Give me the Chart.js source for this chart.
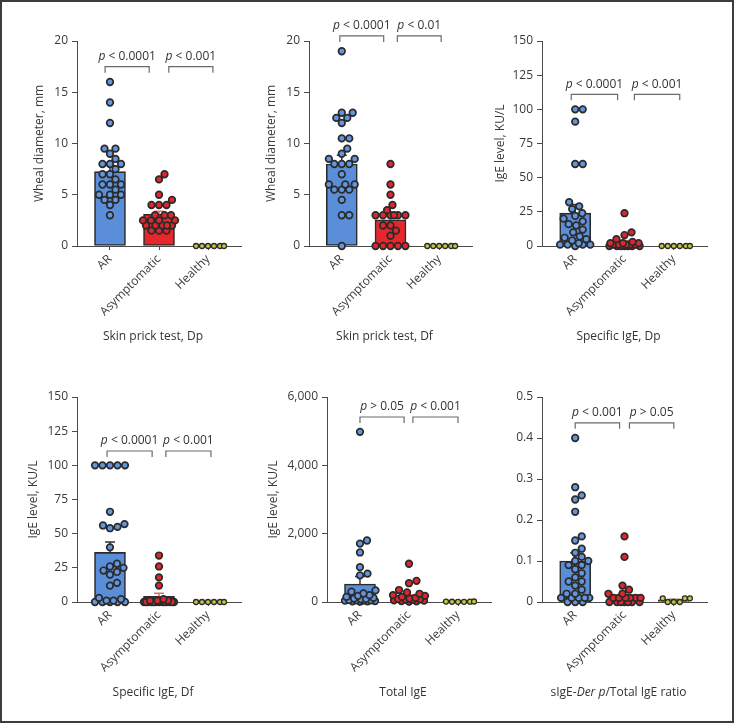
<!DOCTYPE html>
<html>
<head>
<meta charset="utf-8">
<script src="https://cdn.jsdelivr.net/npm/chart.js@4.4.1/dist/chart.umd.min.js"></script>
<style>
  html, body { margin: 0; padding: 0; background: #fff; }
  #frame { position: absolute; left: 0; top: 0; width: 734px; height: 723px; box-sizing: border-box; border: 2px solid #3c3c3c; }
  .panel { position: absolute; }
</style>
</head>
<body>
<div id="frame"></div>
<div class="panel" id="p0"><canvas></canvas></div>
<div class="panel" id="p1"><canvas></canvas></div>
<div class="panel" id="p2"><canvas></canvas></div>
<div class="panel" id="p3"><canvas></canvas></div>
<div class="panel" id="p4"><canvas></canvas></div>
<div class="panel" id="p5"><canvas></canvas></div>
<script>
// groups on the x axis
const categories = ['AR', 'Asymptomatic', 'Healthy'];

// Skin prick test, Dp (wheal diameter, mm)
const sptDpAR = [16, 14, 12, 9.5, 9.5, 9, 8.5, 8, 8, 8, 7.5, 7, 7, 6.5, 6, 6, 6, 5.5, 5, 5, 5, 4.5, 4.5, 4, 3];
const sptDpAsym = [7, 6.5, 5, 4.5, 4, 4, 4, 3, 3, 3, 2.5, 2.5, 2.5, 2.5, 2, 2, 2, 2, 2, 1.5, 1.5, 1.5];
const sptDpHealthy = [0, 0, 0, 0, 0, 0];
const sptDpMean = [7.25, 3.1, 0];
const sptDpSem = [0.6, 0.3, 0];
const sptDpP = ['*p* < 0.0001', '*p* < 0.001'];

// Skin prick test, Df
const sptDfAR = [19, 13, 13, 12.5, 12.5, 12, 10.5, 10.5, 9.5, 9, 8.5, 8.5, 8, 8, 8, 7, 6, 6, 6, 5.5, 5.5, 5.5, 4.5, 3, 3, 0];
const sptDfAsym = [8, 6, 5, 4, 3.5, 3, 3, 3, 3, 3, 3, 2, 2, 1.5, 1, 0, 0, 0, 0, 0];
const sptDfHealthy = [0, 0, 0, 0, 0, 0];
const sptDfMean = [8.0, 2.55, 0];
const sptDfSem = [0.85, 0.5, 0];
const sptDfP = ['*p* < 0.0001', '*p* < 0.01'];

// Specific IgE, Dp (KU/L)
const sIgeDpAR = [100, 100, 91, 60, 60, 32, 29, 27, 24, 22, 20, 18, 16, 15, 12, 10, 7, 6, 5, 4, 2, 1, 1, 1, 1, 0];
const sIgeDpAsym = [24, 10, 8, 5, 3, 2, 2, 2, 1, 1, 1, 1, 1, 0, 0, 0, 0, 0, 0, 0];
const sIgeDpHealthy = [0, 0, 0, 0, 0, 0];
const sIgeDpMean = [24, 2.7, 0];
const sIgeDpSem = [6.3, 1.3, 0];
const sIgeDpP = ['*p* < 0.0001', '*p* < 0.001'];

// Specific IgE, Df (KU/L)
const sIgeDfAR = [100, 100, 100, 100, 100, 66, 57, 56, 55, 54, 40, 28, 26, 25, 23, 22, 20, 14, 12, 3, 2, 1, 1, 0, 0, 0, 0, 0];
const sIgeDfAsym = [34, 26, 18, 12, 2, 1, 1, 1, 1, 0, 0, 0, 0, 0, 0, 0, 0, 0, 0, 0, 0, 0];
const sIgeDfHealthy = [0, 0, 0, 0, 0, 0];
const sIgeDfMean = [36.3, 4.1, 0];
const sIgeDfSem = [7.6, 2.3, 0];
const sIgeDfP = ['*p* < 0.0001', '*p* < 0.001'];

// Total IgE (KU/L)
const totalAR = [4980, 1800, 1710, 1450, 1020, 830, 780, 340, 300, 250, 200, 180, 150, 120, 100, 90, 80, 60, 50, 50, 40, 40, 30, 20, 20, 10];
const totalAsym = [1120, 620, 550, 350, 280, 240, 200, 180, 150, 120, 100, 90, 80, 70, 60, 50, 40, 30, 20, 10];
const totalHealthy = [10, 5, 15, 8, 12, 6];
const totalMean = [527, 150, 10];
const totalSem = [220, 60, 2];
const totalP = ['*p* > 0.05', '*p* < 0.001'];

// sIgE-Der p / total IgE ratio
const ratioAR = [0.40, 0.28, 0.26, 0.25, 0.22, 0.16, 0.15, 0.13, 0.12, 0.11, 0.10, 0.10, 0.09, 0.09, 0.08, 0.07, 0.06, 0.05, 0.05, 0.04, 0.03, 0.02, 0.02, 0.01, 0.01, 0.01, 0.01, 0.01, 0, 0, 0];
const ratioAsym = [0.16, 0.11, 0.04, 0.03, 0.02, 0.02, 0.01, 0.01, 0.01, 0.01, 0.01, 0.01, 0, 0, 0, 0, 0, 0, 0];
const ratioHealthy = [0, 0.009, 0, 0.009, 0, 0.009];
const ratioMean = [0.10, 0.018, 0.005];
const ratioSem = [0.02, 0.01, 0.002];
const ratioP = ['*p* < 0.001', '*p* > 0.05'];

const FONT = '"Open Sans", "DejaVu Sans", sans-serif';
const CAT_PX = 49;   // px between group centres
const PLOT_H = 205;  // px height of each plot area

const barFill = ['#5b8ed8', '#e8272d', '#c8cc3c'];
const dotFill = ['#6296de', '#e3262c', '#c8cc3c'];
const errColor = ['#333333', '#e66a6a', '#777777'];
const edge = '#2b2b2b';

// beeswarm: spread points sideways so they don't overlap, within a max width
function swarm(values, cat, yMax, diam, maxW) {
  const pxY = PLOT_H / yMax;
  const placed = [];
  const out = [];
  values.slice().sort((a, b) => a - b).forEach(v => {
    const py = v * pxY;
    let best = 0, bestD = -1;
    for (let k = 0; k < 400; k++) {
      const cand = (k % 2 ? 1 : -1) * Math.ceil(k / 2) * 0.5;
      if (Math.abs(cand) > maxW) break;
      let dmin = Infinity;
      placed.forEach(p => { dmin = Math.min(dmin, Math.hypot(p.x - cand, p.y - py)); });
      if (dmin >= diam) { best = cand; bestD = dmin; break; }
      if (dmin > bestD + 0.01) { best = cand; bestD = dmin; }
    }
    placed.push({ x: best, y: py });
    out.push({ x: cat + best / CAT_PX, y: v });
  });
  return out;
}

function drawRich(ctx, str, cx, cy, size) {
  const segs = str.split('*').map((t, i) => ({ t, it: i % 2 === 1 })).filter(s => s.t);
  let w = 0;
  segs.forEach(s => {
    ctx.font = (s.it ? 'italic ' : '') + size + 'px ' + FONT;
    s.w = ctx.measureText(s.t).width;
    w += s.w;
  });
  let x = cx - w / 2;
  ctx.textAlign = 'left';
  ctx.textBaseline = 'middle';
  segs.forEach(s => {
    ctx.font = (s.it ? 'italic ' : '') + size + 'px ' + FONT;
    ctx.fillText(s.t, x, cy);
    x += s.w;
  });
}

const panels = [
  { id: 'p0', left: 28, top: 5, axisX: 77, xEnd: 241, plotTop: 41, max: 20, step: 5,
    yTitle: 'Wheal diameter, mm', xTitle: 'Skin prick test, Dp',
    groups: [sptDpAR, sptDpAsym, sptDpHealthy], mean: sptDpMean, sem: sptDpSem, p: sptDpP,
    brackets: [[-0.1, 0.8], [1.2, 2.1]], bracketY: 17.5 },
  { id: 'p1', left: 260, top: 5, axisX: 309, xEnd: 472, plotTop: 41, max: 20, step: 5,
    yTitle: 'Wheal diameter, mm', xTitle: 'Skin prick test, Df',
    groups: [sptDfAR, sptDfAsym, sptDfHealthy], mean: sptDfMean, sem: sptDfSem, p: sptDfP,
    brackets: [[-0.04, 0.86], [1.14, 2.04]], bracketY: 20.5 },
  { id: 'p2', left: 489, top: 5, axisX: 542, xEnd: 707, plotTop: 41, max: 150, step: 25,
    yTitle: 'IgE level, KU/L', xTitle: 'Specific IgE, Dp',
    groups: [sIgeDpAR, sIgeDpAsym, sIgeDpHealthy], mean: sIgeDpMean, sem: sIgeDpSem, p: sIgeDpP,
    brackets: [[-0.08, 0.86], [1.2, 2.12]], bracketY: 111 },
  { id: 'p3', left: 22, top: 360, axisX: 77, xEnd: 241, plotTop: 397, max: 150, step: 25,
    yTitle: 'IgE level, KU/L', xTitle: 'Specific IgE, Df',
    groups: [sIgeDfAR, sIgeDfAsym, sIgeDfHealthy], mean: sIgeDfMean, sem: sIgeDfSem, p: sIgeDfP,
    brackets: [[-0.06, 0.86], [1.14, 2.06]], bracketY: 110.5 },
  { id: 'p4', left: 262, top: 360, axisX: 327, xEnd: 491, plotTop: 397, max: 6000, step: 2000,
    yTitle: 'IgE level, KU/L', xTitle: 'Total IgE',
    groups: [totalAR, totalAsym, totalHealthy], mean: totalMean, sem: totalSem, p: totalP,
    brackets: [[0, 0.9], [1.08, 2.0]], bracketY: 5415 },
  { id: 'p5', left: 500, top: 360, axisX: 542, xEnd: 707, plotTop: 397, max: 0.5, step: 0.1,
    yTitle: '', xTitle: 'sIgE-*Der p*/Total IgE ratio',
    groups: [ratioAR, ratioAsym, ratioHealthy], mean: ratioMean, sem: ratioSem, p: ratioP,
    brackets: [[0, 0.9], [1.1, 2.0]], bracketY: 0.437 }
];

Chart.defaults.font.family = FONT;
Chart.defaults.font.size = 12;
Chart.defaults.color = '#3a3a3a';

panels.forEach(pn => {
  const H = 345;
  const W = pn.xEnd - pn.left + 12;
  const box = document.getElementById(pn.id);
  box.style.left = pn.left + 'px';
  box.style.top = pn.top + 'px';
  box.style.width = W + 'px';
  box.style.height = H + 'px';
  const padTop = pn.plotTop - pn.top;
  const xH = H - (pn.plotTop + PLOT_H - pn.top);

  const datasets = [{
    type: 'bar',
    data: pn.mean.map((m, i) => ({ x: i, y: m })),
    backgroundColor: barFill,
    borderColor: edge,
    borderWidth: 1.6,
    borderSkipped: false,
    barThickness: 31,
    clip: false,
    order: 2
  }];
  pn.groups.forEach((vals, g) => {
    const small = g === 2;
    datasets.push({
      type: 'scatter',
      data: swarm(vals, g, pn.max, small ? 6 : 7.4, small ? 16 : 16),
      pointRadius: small ? 2.5 : 3.3,
      pointHoverRadius: small ? 2.5 : 3.3,
      pointBackgroundColor: dotFill[g],
      pointBorderColor: edge,
      pointBorderWidth: small ? 1.3 : 1.7,
      clip: false,
      order: 1
    });
  });

  const annot = {
    id: 'annot' + pn.id,
    afterDatasetDraw(chart, args) {
      if (args.index !== 0) return;
      const ctx = chart.ctx, xs = chart.scales.x, ys = chart.scales.y;
      ctx.save();
      ctx.lineWidth = 1.5;
      pn.mean.forEach((m, i) => {
        if (!pn.sem[i]) return;
        const x = xs.getPixelForValue(i);
        const y0 = ys.getPixelForValue(m);
        const y1 = ys.getPixelForValue(m + pn.sem[i]);
        ctx.strokeStyle = errColor[i];
        ctx.beginPath();
        ctx.moveTo(x, y0); ctx.lineTo(x, y1);
        ctx.moveTo(x - 5, y1); ctx.lineTo(x + 5, y1);
        ctx.stroke();
      });
      ctx.restore();
    },
    afterDraw(chart) {
      const ctx = chart.ctx, xs = chart.scales.x, ys = chart.scales.y, ca = chart.chartArea;
      ctx.save();
      ctx.strokeStyle = '#6a6a6a';
      ctx.lineWidth = 1.2;
      ctx.fillStyle = '#333';
      const by = ys.getPixelForValue(pn.bracketY);
      pn.brackets.forEach((b, i) => {
        const x1 = xs.getPixelForValue(b[0]);
        const x2 = xs.getPixelForValue(b[1]);
        ctx.beginPath();
        ctx.moveTo(x1, by + 6); ctx.lineTo(x1, by); ctx.lineTo(x2, by); ctx.lineTo(x2, by + 6);
        ctx.stroke();
        drawRich(ctx, pn.p[i], (x1 + x2) / 2, by - 10, 12);
      });
      drawRich(ctx, pn.xTitle, (ca.left + ca.right) / 2 - 6, ca.bottom + 91, 12);
      ctx.restore();
    }
  };

  new Chart(box.querySelector('canvas'), {
    type: 'bar',
    data: { datasets },
    plugins: [annot],
    options: {
      responsive: true,
      maintainAspectRatio: false,
      animation: false,
      locale: 'en-US',
      layout: { padding: { top: padTop, right: 12, left: 0, bottom: 0 } },
      plugins: { legend: { display: false }, tooltip: { enabled: false } },
      scales: {
        x: {
          type: 'linear',
          offset: false,
          bounds: 'data',
          min: -0.673,
          max: 2.673,
          afterBuildTicks: s => { s.ticks = categories.map((c, i) => ({ value: i })); },
          afterFit: s => { s.height = xH; s.paddingLeft = 0; s.paddingRight = 0; },
          border: { display: true, color: '#4a4a4a', width: 1 },
          grid: { offset: false, drawOnChartArea: false, drawTicks: true, tickLength: 4, color: '#4a4a4a' },
          ticks: {
            autoSkip: false,
            minRotation: 45,
            maxRotation: 45,
            padding: 2,
            color: '#3a3a3a',
            callback: v => categories[v]
          }
        },
        y: {
          min: 0,
          max: pn.max,
          afterFit: s => { s.width = pn.axisX - pn.left; },
          border: { display: true, color: '#4a4a4a', width: 1 },
          grid: { drawOnChartArea: false, drawTicks: true, tickLength: 5, color: '#4a4a4a' },
          ticks: { stepSize: pn.step, padding: 4, color: '#3a3a3a' },
          title: { display: !!pn.yTitle, text: pn.yTitle, color: '#3a3a3a', font: { size: 12 } }
        }
      }
    }
  });
});
</script>
</body>
</html>
